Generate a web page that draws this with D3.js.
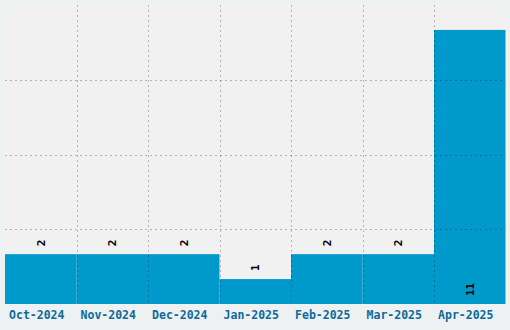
<!DOCTYPE html>
<html><head><meta charset="utf-8">
<script src="https://cdn.jsdelivr.net/npm/d3@7"></script>
<style>
html,body{margin:0;padding:0;background:#edf1f2;}
svg{display:block;}
</style></head>
<body>
<script>
const categories = ["Oct-2024","Nov-2024","Dec-2024","Jan-2025","Feb-2025","Mar-2025","Apr-2025"];
const values = [2,2,2,1,2,2,11];
const yTicks = [3,6,9];

const W = 510, H = 330;
const m = {left:5, right:4.5, top:5, bottom:26};
const svg = d3.select("body").append("svg").attr("width",W).attr("height",H);

const x = d3.scaleBand().domain(categories).range([m.left, W-m.right]).padding(0);
const y = d3.scaleLinear().domain([0,12]).range([H-m.bottom, m.top]);

svg.append("rect").attr("x",m.left).attr("y",m.top)
  .attr("width",W-m.left-m.right).attr("height",y(0)-m.top).attr("fill","#f1f1f1");

svg.append("g").selectAll("rect").data(values).join("rect")
  .attr("x",(d,i)=>x(categories[i]))
  .attr("width",x.bandwidth())
  .attr("y",d=>y(d))
  .attr("height",d=>y(0)-y(d))
  .attr("fill","#0099cc");

const grid = svg.append("g").attr("stroke","rgba(0,0,0,0.25)").attr("stroke-dasharray","2,3").attr("stroke-width",1);
grid.selectAll("line.h").data(yTicks).join("line")
  .attr("x1",m.left).attr("x2",W-m.right)
  .attr("y1",d=>Math.round(y(d))+0.5).attr("y2",d=>Math.round(y(d))+0.5);
grid.selectAll("line.v").data(categories.slice(1)).join("line")
  .attr("x1",d=>Math.round(x(d))+0.5).attr("x2",d=>Math.round(x(d))+0.5)
  .attr("y1",m.top).attr("y2",y(0));

const maxV = d3.max(values);
svg.append("g").selectAll("text").data(values).join("text")
  .attr("transform",(d,i)=>{
    const cx = x(categories[i]) + x.bandwidth()/2 + 4;
    const cy = (d === maxV) ? y(0) - 8 : y(d) - 8;
    return `translate(${cx},${cy}) rotate(-90)`;
  })
  .attr("text-anchor","start")
  .attr("font-family","DejaVu Sans Mono, monospace")
  .attr("font-weight","bold")
  .attr("font-size","11px")
  .attr("fill","#000")
  .text(d=>d);

const xAxis = d3.axisBottom(x).tickSize(0).tickPadding(7);
const gx = svg.append("g").attr("transform",`translate(0,${y(0)})`).call(xAxis);
gx.select(".domain").remove();
gx.selectAll("text")
  .attr("dx","-4")
  .attr("font-family","DejaVu Sans Mono, monospace")
  .attr("font-weight","bold")
  .attr("font-size","11.5px")
  .attr("fill","#0f6a9c");
</script>
</body></html>
